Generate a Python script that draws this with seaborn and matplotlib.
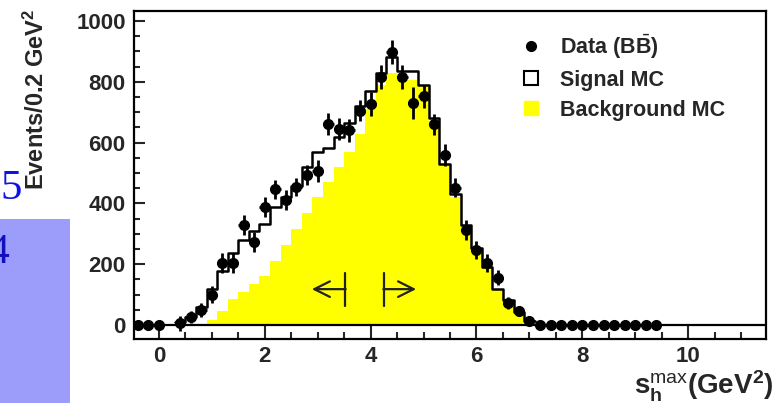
import numpy as np
import pandas as pd
import matplotlib
matplotlib.use("Agg")
import matplotlib.pyplot as plt
from matplotlib.lines import Line2D
from matplotlib.ticker import MultipleLocator
import seaborn as sns

# ---------------- data ----------------
mc_centers = [0.4, 0.6, 0.8, 1.0, 1.2, 1.4, 1.6, 1.8, 2.0, 2.2, 2.4, 2.6, 2.8, 3.0,
              3.2, 3.4, 3.6, 3.8, 4.0, 4.2, 4.4, 4.6, 4.8, 5.0, 5.2, 5.4, 5.6, 5.8,
              6.0, 6.2, 6.4, 6.6, 6.8, 7.0]
total_mc = [10, 27, 58, 118, 178, 236, 281, 310, 332, 389, 422, 458, 520, 569,
            582, 618, 664, 720, 770, 829, 881, 836, 836, 791, 680, 530, 430, 330,
            255, 190, 118, 82, 42, 12]
background_mc = [0, 0, 0, 18, 45, 85, 110, 135, 160, 212, 262, 315, 370, 420,
                 470, 520, 570, 630, 710, 790, 829, 806, 806, 788, 670, 525, 420, 328,
                 250, 188, 116, 80, 40, 10]

data_x = [-0.4, -0.2, 0.0, 0.4, 0.6, 0.8, 1.0, 1.2, 1.4, 1.6, 1.8, 2.0, 2.2, 2.4,
          2.6, 2.8, 3.0, 3.2, 3.4, 3.6, 3.8, 4.0, 4.2, 4.4, 4.6, 4.8, 5.0, 5.2,
          5.4, 5.6, 5.8, 6.0, 6.2, 6.4, 6.6, 6.8, 7.0, 7.2, 7.4, 7.6, 7.8, 8.0,
          8.2, 8.4, 8.6, 8.8, 9.0, 9.2, 9.4]
data_y = [0, 0, 0, 5, 26, 49, 99, 204, 204, 329, 273, 388, 446, 412,
          455, 493, 507, 661, 645, 640, 705, 727, 816, 898, 816, 730, 753, 660,
          559, 452, 312, 247, 204, 155, 72, 46, 13, 0, 0, 0, 0, 0,
          0, 0, 0, 0, 0, 0, 0]
data_err = [0, 0, 0, 25, 20, 22, 28, 32, 32, 33, 33, 33, 30, 33,
            30, 33, 35, 35, 35, 38, 35, 38, 40, 38, 38, 52, 38, 35,
            35, 30, 33, 30, 28, 25, 20, 15, 10, 0, 0, 0, 0, 0,
            0, 0, 0, 0, 0, 0, 0]

x_ticks = [0, 2, 4, 6, 8, 10]
y_ticks = [0, 200, 400, 600, 800, 1000]
legend_labels = ["Data (B$\\bar{\\mathbf{B}}$)", "Signal MC", "Background MC"]

# ---------------- style ----------------
sns.set_style("white")
plt.rcParams["font.family"] = ["Liberation Sans", "DejaVu Sans"]
plt.rcParams["mathtext.fontset"] = "custom"
plt.rcParams["mathtext.rm"] = "Liberation Sans"
plt.rcParams["mathtext.bf"] = "Liberation Sans:bold"
plt.rcParams["mathtext.it"] = "Liberation Sans:italic"

W, H = 776, 403
fig = plt.figure(figsize=(W / 100, H / 100), dpi=100)
fig.patch.set_facecolor("white")

# slide artefacts on the left
fig.patches.append(plt.Rectangle((0, 0), 70 / W, 1 - 219 / H, transform=fig.transFigure,
                                 facecolor="#9c9cfb", edgecolor="none", zorder=0))
fig.text(0.5 / W, 1 - 189 / H, "5", color="#1010e8", fontsize=31,
         family="Liberation Serif", ha="left", va="center")
fig.text(9 / W, 1 - 253 / H, "4", color="#1010c0", fontsize=30,
         family="Liberation Serif", ha="right", va="center")

ax = fig.add_axes([134 / W, 1 - 339 / H, 632 / W, 328 / H])
ax.set_facecolor("white")

centers = np.array(mc_centers)
edges = [float(e) for e in np.append(centers - 0.1, centers[-1] + 0.1)]
mc = pd.DataFrame({"s": mc_centers, "bkg": background_mc, "tot": total_mc})

sns.histplot(data=mc, x="s", weights="bkg", bins=edges, element="step",
             fill=True, color="#ffff00", alpha=1.0, linewidth=0, ax=ax, zorder=1)
sns.histplot(data=mc, x="s", weights="tot", bins=edges, element="step",
             fill=False, color="black", linewidth=1.8, ax=ax, zorder=3)

ax.axhline(0, color="black", lw=1.6, zorder=2)

dy = np.array(data_y)
xerr = np.where(dy > 0, 0.1, 0.0)
ax.errorbar(data_x, data_y, yerr=data_err, xerr=xerr, fmt="o", color="black",
            ms=7, elinewidth=2.0, capsize=0, zorder=4)

# arrows
ax.plot([3.52, 3.52], [62, 171], color="#222222", lw=1.6, zorder=2)
ax.plot([4.25, 4.25], [62, 171], color="#222222", lw=1.6, zorder=2)
ax.annotate("", xy=(2.89, 118), xytext=(3.53, 118),
            arrowprops=dict(arrowstyle="->", lw=1.6, color="#222222",
                            mutation_scale=28, shrinkA=0, shrinkB=0), zorder=2)
ax.annotate("", xy=(4.86, 118), xytext=(4.24, 118),
            arrowprops=dict(arrowstyle="->", lw=1.6, color="#222222",
                            mutation_scale=28, shrinkA=0, shrinkB=0), zorder=2)

ax.set_xlim(-0.47, 11.47)
ax.set_ylim(-46, 1033)
ax.set_xticks(x_ticks)
ax.set_yticks(y_ticks)
ax.xaxis.set_minor_locator(MultipleLocator(0.5))
ax.yaxis.set_minor_locator(MultipleLocator(50))
ax.set_xticklabels([str(t) for t in x_ticks], fontsize=16, fontweight="bold")
ax.set_yticklabels([str(t) for t in y_ticks], fontsize=16, fontweight="bold")
ax.tick_params(axis="x", which="major", direction="in", length=10, width=1.5, pad=5,
               bottom=True, top=False)
ax.tick_params(axis="x", which="minor", direction="in", length=5, width=1.5,
               bottom=True, top=False)
ax.tick_params(axis="y", which="major", direction="in", length=8, width=1.5, pad=6,
               left=True, right=False)
ax.tick_params(axis="y", which="minor", direction="in", length=4.5, width=1.5,
               left=True, right=False)
for s in ax.spines.values():
    s.set_linewidth(1.6)
    s.set_color("black")
ax.set_xlabel("")
ax.set_ylabel("")

# legend
handles = [
    Line2D([], [], marker="o", ls="none", color="black", ms=7),
    Line2D([], [], marker="s", ls="none", mfc="white", mec="black", mew=1.5, ms=10),
    Line2D([], [], marker="s", ls="none", mfc="#ffff00", mec="#ffff00", ms=10),
]
leg = ax.legend(handles, legend_labels, loc="upper left",
                bbox_to_anchor=(0.597, 0.96), frameon=False,
                prop={"weight": "bold", "size": 15.5}, handlelength=1.0,
                handletextpad=0.85, labelspacing=0.42, borderaxespad=0)

# axis labels
fig.text(36 / W, 1 - 99 / H, "Events/0.2 GeV$^{\\mathbf{2}}$", rotation=90,
         fontsize=17, fontweight="bold", ha="center", va="center")
fig.text(774 / W, 1 - 394 / H,
         "$\\mathbf{s}_{\\mathbf{h}}^{\\mathrm{max}}$(GeV$^{\\mathbf{2}}$)",
         fontsize=20, fontweight="bold", ha="right", va="baseline")

fig.savefig("out.png", dpi=100)
